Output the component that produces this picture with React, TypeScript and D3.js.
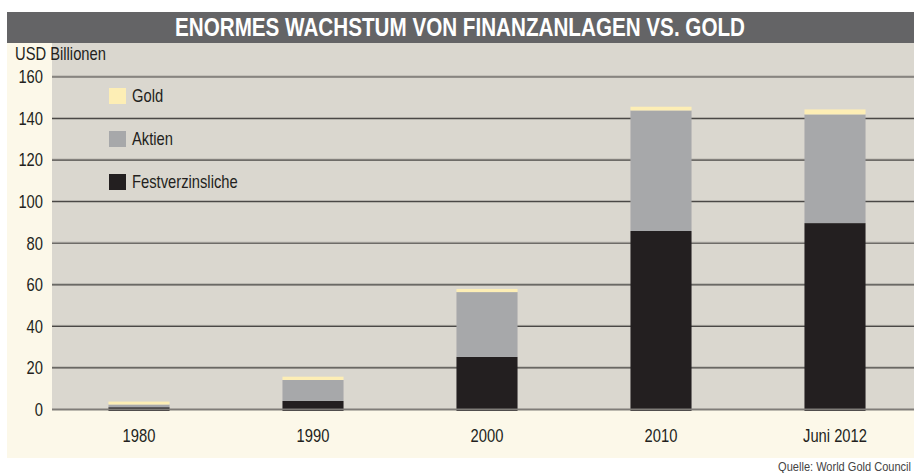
import React from "react";
import * as d3 from "d3";

const categories = ["1980", "1990", "2000", "2010", "Juni 2012"];
const festverzinsliche = [1.1, 4.1, 25.3, 85.9, 89.7];
const aktien = [1.3, 10.1, 31.2, 58.0, 52.3];
const gold = [1.4, 1.6, 1.5, 1.8, 2.4];
const yTicks = [0, 20, 40, 60, 80, 100, 120, 140, 160];
const seriesKeys = ["fest", "aktien", "gold"];
const legendItems = [
  { key: "gold", label: "Gold" },
  { key: "aktien", label: "Aktien" },
  { key: "fest", label: "Festverzinsliche" },
];
const title = "ENORMES WACHSTUM VON FINANZANLAGEN VS. GOLD";
const yLabel = "USD Billionen";
const source = "Quelle: World Gold Council";

const colors: Record<string, string> = {
  fest: "#231f20",
  aktien: "#a7a8aa",
  gold: "#fdeeb5",
};

const FONT = "'Liberation Sans', Arial, sans-serif";
const SX = 0.82;

function T(props: {
  x: number;
  y: number;
  size: number;
  anchor?: string;
  fill?: string;
  weight?: string;
  dy?: string;
  sx?: number;
  children: React.ReactNode;
}) {
  const sx = props.sx ?? SX;
  return (
    <text
      transform={`translate(${props.x},${props.y}) scale(${sx},1)`}
      textAnchor={props.anchor ?? "start"}
      fill={props.fill ?? "#231f20"}
      fontFamily={FONT}
      fontWeight={props.weight ?? "normal"}
      fontSize={props.size}
      dy={props.dy}
    >
      {props.children}
    </text>
  );
}

export default function App() {
  const W = 914;
  const H = 473;
  const left = 52;
  const right = 914;
  const top = 77;
  const bottom = 409.5;

  const rows = categories.map((c, i) => ({
    cat: c,
    fest: festverzinsliche[i],
    aktien: aktien[i],
    gold: gold[i],
  }));
  const stacked = d3.stack<any>().keys(seriesKeys)(rows);

  const x = d3
    .scaleBand<string>()
    .domain(categories)
    .range([left, left + 870])
    .paddingInner(0.649)
    .paddingOuter(0.3245);
  const y = d3.scaleLinear().domain([0, 160]).range([bottom, top]);

  return (
    <div style={{ position: "absolute", left: 0, top: 0 }}>
      <svg width={W} height={H} style={{ display: "block" }}>
        <rect x={0} y={0} width={W} height={H} fill="#ffffff" />
        {/* title bar */}
        <rect x={7} y={12} width={W - 7} height={31} fill="#646466" />
        <text
          x={460}
          y={35.5}
          textAnchor="middle"
          fill="#ffffff"
          fontFamily={FONT}
          fontWeight="bold"
          fontSize={26}
          textLength={570}
          lengthAdjust="spacingAndGlyphs"
        >
          {title}
        </text>
        {/* backgrounds */}
        <rect x={7} y={43} width={W - 7} height={415} fill="#fcf8e9" />
        <rect x={left} y={43} width={right - left} height={bottom - 43} fill="#dad7cf" />
        <T x={15} y={59.5} size={18}>
          {yLabel}
        </T>
        {/* gridlines */}
        {yTicks.map((t) =>
          t === 0 ? null : (
            <g key={t}>
              <line x1={left} x2={right} y1={y(t) - 1} y2={y(t) - 1} stroke="#aeaba5" strokeWidth={1} />
              <line x1={left} x2={right} y1={y(t)} y2={y(t)} stroke="#4a4846" strokeWidth={1.2} />
            </g>
          )
        )}
        {/* y tick labels */}
        {yTicks.map((t) => (
          <T key={"l" + t} x={43} y={y(t)} dy="0.35em" anchor="end" size={18}>
            {t}
          </T>
        ))}
        {/* bars */}
        {stacked.map((s) => (
          <g key={s.key} fill={colors[s.key]}>
            {s.map((d, i) => (
              <rect
                key={i}
                x={x(categories[i])}
                width={x.bandwidth()}
                y={y(d[1])}
                height={y(d[0]) - y(d[1]) + (s.key === "fest" ? 1.5 : 0)}
              />
            ))}
          </g>
        ))}
        {/* zero line */}
        <line x1={left} x2={right} y1={bottom} y2={bottom} stroke="#7f7c78" strokeWidth={2} />
        {/* legend */}
        {legendItems.map((it, i) => (
          <g key={it.key}>
            <rect x={109} y={88 + i * 43} width={17} height={16} fill={colors[it.key]} />
            <T x={132} y={96 + i * 43} dy="0.36em" size={18}>
              {it.label}
            </T>
          </g>
        ))}
        {/* x labels */}
        {categories.map((c) => (
          <T key={c} x={(x(c) as number) + x.bandwidth() / 2} y={436} dy="0.35em" anchor="middle" size={18}>
            {c}
          </T>
        ))}
        <T x={911} y={470.5} anchor="end" size={13} sx={0.85} fill="#444">
          {source}
        </T>
      </svg>
    </div>
  );
}
